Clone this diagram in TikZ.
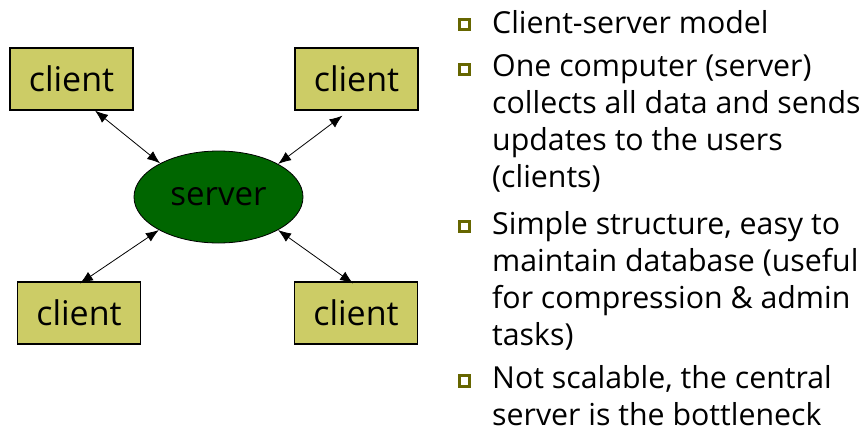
\documentclass[tikz,border=0pt]{standalone}
\usepackage{fontspec}
\setmainfont{Open Sans}
\usetikzlibrary{arrows.meta,shapes.geometric}

\definecolor{clientfill}{RGB}{204,204,102}
\definecolor{serverfill}{RGB}{0,102,0}
\definecolor{bulletol}{RGB}{102,102,0}

\begin{document}
\begin{tikzpicture}[x=1pt, y=-1pt,
    client/.style = {draw, line width=1.2pt, fill=clientfill, minimum width=123pt, minimum height=62pt, font=\fontsize{34}{34}\selectfont},
    srv/.style = {draw, ellipse, line width=0.8pt, fill=serverfill, minimum width=169pt, minimum height=92pt, inner sep=0pt, font=\fontsize{33}{33}\selectfont},
    link/.style = {{Latex[length=13pt,width=10pt]}-{Latex[length=13pt,width=10pt]}, line width=0.8pt},
    sq/.style = {draw=bulletol, line width=3pt, fill=white, minimum size=10.5pt, inner sep=0pt},
    item/.style = {anchor=north west, align=left, inner sep=0pt, font=\fontsize{30.3}{37}\selectfont}]
    \useasboundingbox (0,0) rectangle (868,431);
    % diagram
    \node[srv] (s) at (218.5,197) {server};
    \node[client] (tl) at (71.5,79) {client};
    \node[client] (tr) at (356.5,79) {client};
    \node[client] (bl) at (79,313) {client};
    \node[client] (br) at (356,313) {client};
    \draw[link] ([xshift=23.5pt]tl.south) -- (s.150);
    \draw[link] ([xshift=-14pt,yshift=-5pt]tr.south) -- (s.29);
    \draw[link] ([xshift=1pt,yshift=-2pt]bl.north) -- (s.209);
    \draw[link] ([xshift=-3pt,yshift=-2pt]br.north) -- (s.331);
    % bullets
    \node[sq] (b1) at (464.5,24.5) {};
    \node[sq] (b2) at (464.5,69.5) {};
    \node[sq] (b3) at (464.5,226.5) {};
    \node[sq] (b4) at (464.5,381) {};
    \node[item] (t1) at (492,10) {Client-server model};
    \node[item] (t2) at (492,54) {One computer (server)\\collects all data and sends\\updates to the users\\(clients)};
    \node[item] (t3) at (492,211) {Simple structure, easy to\\maintain database (useful\\for compression \& admin\\tasks)};
    \node[item] (t4) at (492,365) {Not scalable, the central\\server is the bottleneck};
\end{tikzpicture}
\end{document}
